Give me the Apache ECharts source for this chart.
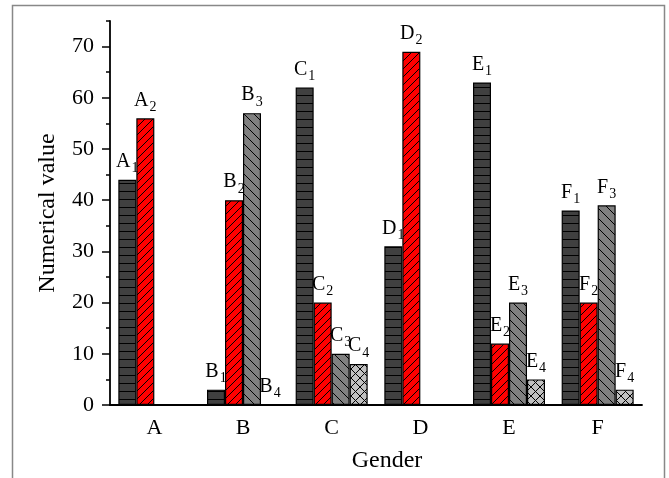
<!DOCTYPE html>
<html>
<head>
<meta charset="utf-8">
<script src="https://cdn.jsdelivr.net/npm/echarts@6/dist/echarts.min.js"></script>
<style>html,body{margin:0;padding:0;background:#fff}#c{width:669px;height:478px}</style>
</head>
<body>
<div id="c"></div>
<script>
const categories = ['A', 'B', 'C', 'D', 'E', 'F'];
const series1 = [44, 3, 62, 31, 63, 38];
const series2 = [56, 40, 20, 69, 12, 20];
const series3 = [null, 57, 10, null, 20, 39];
const series4 = [null, 0, 8, null, 5, 3];
const yTickLabels = [0, 10, 20, 30, 40, 50, 60, 70];
const yMinorTicks = [5, 15, 25, 35, 45, 55, 65, 75];
const yName = 'Numerical value';
const xName = 'Gender';

const FONT = '"Times New Roman", "Liberation Serif", serif';

function makePattern(size, fill, draw) {
  const c = document.createElement('canvas');
  c.width = size; c.height = size;
  const g = c.getContext('2d');
  g.fillStyle = fill; g.fillRect(0, 0, size, size);
  g.strokeStyle = '#000'; g.lineWidth = 1;
  draw(g, size);
  return { image: c, repeat: 'repeat' };
}
const pat1 = makePattern(8, '#404040', (g, s) => { g.beginPath(); g.moveTo(0, s - 0.5); g.lineTo(s, s - 0.5); g.stroke(); });
const pat2 = makePattern(8, '#ff0000', (g, s) => {
  g.beginPath();
  g.moveTo(-1, s + 1); g.lineTo(s + 1, -1);
  g.moveTo(-1, 1); g.lineTo(1, -1);
  g.moveTo(s - 1, s + 1); g.lineTo(s + 1, s - 1);
  g.stroke();
});
const pat3 = makePattern(10, '#808080', (g, s) => {
  g.beginPath();
  g.moveTo(-1, -1); g.lineTo(s + 1, s + 1);
  g.moveTo(s - 1, -1); g.lineTo(s + 1, 1);
  g.moveTo(-1, s - 1); g.lineTo(1, s + 1);
  g.stroke();
});
const pat4 = makePattern(9, '#c0c0c0', (g, s) => {
  g.beginPath();
  g.moveTo(-1, -1); g.lineTo(s + 1, s + 1);
  g.moveTo(-1, s + 1); g.lineTo(s + 1, -1);
  g.stroke();
});

function mkSeries(data, idx, pat) {
  return {
    type: 'bar',
    data: data,
    barWidth: 18,
    barGap: '0%',
    itemStyle: { color: pat, borderColor: '#000', borderWidth: 1.2 },
    label: {
      show: true,
      position: 'top',
      distance: 4,
      formatter: p => '{m|' + categories[p.dataIndex] + '}{s|' + idx + '}',
      rich: {
        m: { fontFamily: FONT, fontSize: 20, color: '#000', verticalAlign: 'top' },
        s: { fontFamily: FONT, fontSize: 14, color: '#000', verticalAlign: 'top', padding: [10, 0, 0, 1] }
      }
    }
  };
}

const chart = echarts.init(document.getElementById('c'), null, { renderer: 'canvas' });
chart.setOption({
  animation: false,
  backgroundColor: '#fff',
  grid: { left: 110, right: 27, top: 21, bottom: 70, containLabel: false },
  graphic: [{
    type: 'rect', shape: { x: 12.5, y: 5.5, width: 652, height: 500 },
    style: { fill: null, stroke: '#888', lineWidth: 1.5 }, silent: true
  }],
  xAxis: [{
    type: 'category', data: categories,
    axisLine: { lineStyle: { color: '#000', width: 1.8 } },
    axisTick: { alignWithLabel: true, length: 7, lineStyle: { color: '#000', width: 1.5 } },
    axisLabel: { fontFamily: FONT, fontSize: 22, color: '#000', margin: 12 },
    name: xName, nameLocation: 'middle', nameGap: 44,
    nameTextStyle: { fontFamily: FONT, fontSize: 24, color: '#000', padding: [0, 0, 0, 22] }
  }, {
    type: 'category', data: categories, position: 'bottom',
    axisLine: { show: false },
    axisTick: { alignWithLabel: false, length: 4, lineStyle: { color: '#000', width: 1.5 } },
    axisLabel: { show: false }
  }],
  yAxis: [{
    type: 'value', min: 0, max: 75, interval: 10,
    axisLine: { show: true, lineStyle: { color: '#000', width: 1.8 } },
    axisTick: { show: true, length: 8, customValues: yTickLabels, lineStyle: { color: '#000', width: 1.5 } },
    axisLabel: { fontFamily: FONT, fontSize: 22, color: '#000', margin: 16, customValues: yTickLabels },
    splitLine: { show: false },
    name: yName, nameLocation: 'middle', nameGap: 50,
    nameTextStyle: { fontFamily: FONT, fontSize: 24, color: '#000' }
  }, {
    type: 'value', min: 0, max: 75, interval: 5, position: 'left',
    axisLine: { show: false },
    axisTick: { show: true, length: 4, customValues: yMinorTicks, lineStyle: { color: '#000', width: 1.5 } },
    axisLabel: { show: false },
    splitLine: { show: false }
  }],
  series: [
    mkSeries(series1, 1, pat1),
    mkSeries(series2, 2, pat2),
    mkSeries(series3, 3, pat3),
    mkSeries(series4, 4, pat4)
  ]
});
</script>
</body>
</html>
